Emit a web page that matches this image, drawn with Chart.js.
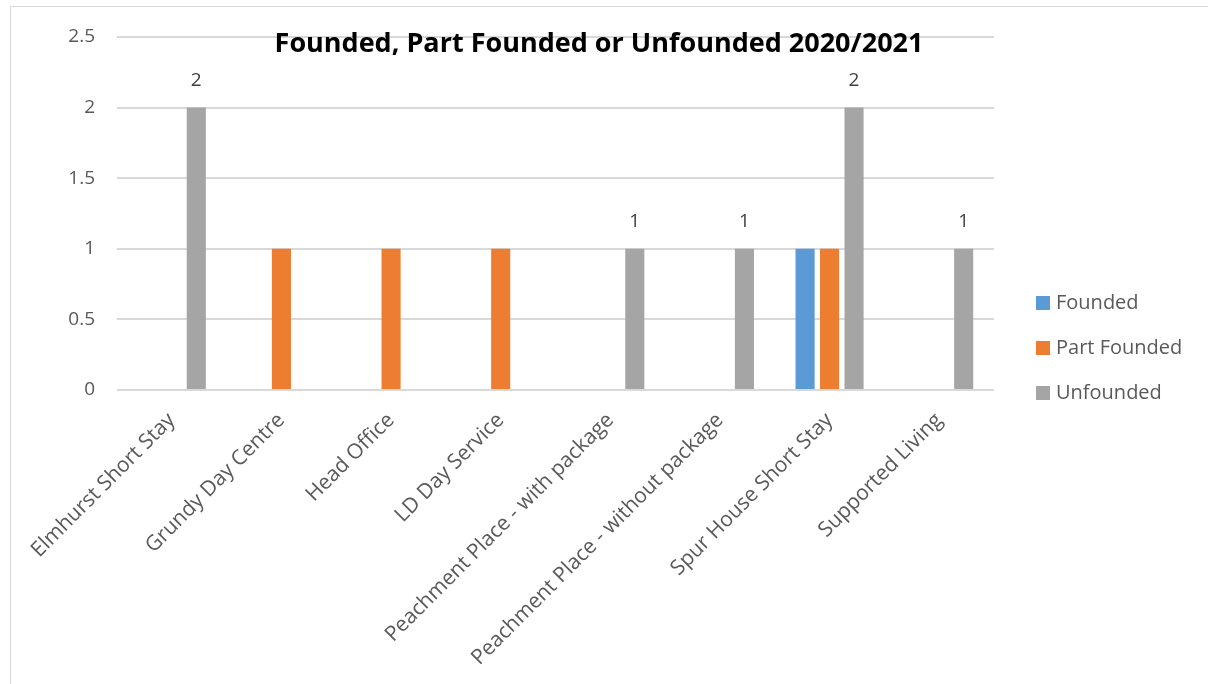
<!DOCTYPE html>
<html>
<head>
<meta charset="utf-8">
<script src="https://cdn.jsdelivr.net/npm/chart.js@4.4.1/dist/chart.umd.min.js"></script>
<style>
  html, body { margin: 0; padding: 0; background: #fff; overflow: hidden; }
  #wrap { position: relative; width: 1208px; height: 684px; }
  #frame {
    position: absolute; left: 10px; top: 6px; width: 1400px; height: 900px;
    border: 1px solid #d9d9d9; box-sizing: border-box; pointer-events: none;
  }
  #chart { position: absolute; left: 0; top: 0; }
</style>
</head>
<body>
<div id="wrap">
  <div id="frame"></div>
  <canvas id="chart" width="1208" height="684"></canvas>
</div>
<script>
// Settings
const chartTitle = "Founded, Part Founded or Unfounded 2020/2021";
const services = [
  "Elmhurst Short Stay",
  "Grundy Day Centre",
  "Head Office",
  "LD Day Service",
  "Peachment Place - with package",
  "Peachment Place - without package",
  "Spur House Short Stay",
  "Supported Living",
];
const founded = [0, 0, 0, 0, 0, 0, 1, 0];
const partFounded = [0, 1, 1, 1, 0, 0, 1, 0];
const unfounded = [2, 0, 0, 0, 1, 1, 2, 1];
const yTicks = [0, 0.5, 1, 1.5, 2, 2.5];

const seriesColors = {
  founded: "#5b9bd5",
  partFounded: "#ed7d31",
  unfounded: "#a5a5a5",
};
const textColor = "#595959";
const gridColor = "#d9d9d9";
const fontFamily = "'Open Sans', 'Liberation Sans', sans-serif";

// Value labels, only shown on the Unfounded series
const valueLabels = {
  id: "valueLabels",
  afterDatasetsDraw(chart) {
    const ctx = chart.ctx;
    const meta = chart.getDatasetMeta(2);
    ctx.save();
    ctx.fillStyle = "#404040";
    ctx.font = "19px " + fontFamily;
    ctx.textAlign = "center";
    ctx.textBaseline = "middle";
    meta.data.forEach((bar, i) => {
      const v = unfounded[i];
      if (!v) return;
      ctx.fillText(String(v), bar.x, bar.y - 27);
    });
    ctx.restore();
  },
};

// Title sits inside the plot, over the top gridline
const overlayTitle = {
  id: "overlayTitle",
  afterDraw(chart) {
    const ctx = chart.ctx;
    ctx.save();
    ctx.fillStyle = "#000";
    ctx.font = "bold 27px " + fontFamily;
    ctx.textAlign = "center";
    ctx.textBaseline = "middle";
    ctx.fillText(chartTitle, 599, 44);
    ctx.restore();
  },
};

// Legend to the right of the plot, centred on the canvas height
const sideLegend = {
  id: "sideLegend",
  afterDraw(chart) {
    const ctx = chart.ctx;
    const x = chart.chartArea.right + 42;
    const step = 45;
    const sets = chart.data.datasets;
    const y0 = chart.height / 2 + 6 - step * (sets.length - 1) / 2;
    ctx.save();
    ctx.font = "20px " + fontFamily;
    ctx.textBaseline = "middle";
    ctx.textAlign = "left";
    sets.forEach((ds, i) => {
      const y = y0 + i * step;
      ctx.fillStyle = ds.backgroundColor;
      ctx.fillRect(x, y - 7, 14, 14);
      ctx.fillStyle = textColor;
      ctx.fillText(ds.label, x + 20, y);
    });
    ctx.restore();
  },
};

function makeDataset(label, data, color) {
  return {
    label: label,
    data: data,
    backgroundColor: color,
    borderWidth: 0,
    categoryPercentage: 0.67,
    barPercentage: 0.78,
  };
}

new Chart(document.getElementById("chart"), {
  type: "bar",
  data: {
    labels: services,
    datasets: [
      makeDataset("Founded", founded, seriesColors.founded),
      makeDataset("Part Founded", partFounded, seriesColors.partFounded),
      makeDataset("Unfounded", unfounded, seriesColors.unfounded),
    ],
  },
  options: {
    responsive: false,
    animation: false,
    layout: { padding: { top: 37, left: 0, right: 214, bottom: 0 } },
    plugins: {
      title: { display: false },
      tooltip: { enabled: false },
      legend: { display: false },
    },
    scales: {
      x: {
        grid: { display: false },
        border: { display: false },
        ticks: {
          color: textColor,
          font: { family: fontFamily, size: 21 },
          minRotation: 45,
          maxRotation: 45,
          padding: 10,
        },
        afterFit(scale) {
          scale.height = 294;
        },
      },
      y: {
        min: 0,
        max: 2.5,
        afterBuildTicks(scale) {
          scale.ticks = yTicks.map((v) => ({ value: v }));
        },
        grid: { color: gridColor, lineWidth: 2, drawTicks: false },
        border: { display: false },
        ticks: {
          color: textColor,
          font: { family: fontFamily, size: 19 },
          padding: 22,
          callback: (v) => String(v),
        },
        afterFit(scale) {
          scale.width = 117;
        },
      },
    },
  },
  plugins: [valueLabels, overlayTitle, sideLegend],
});
</script>
</body>
</html>
